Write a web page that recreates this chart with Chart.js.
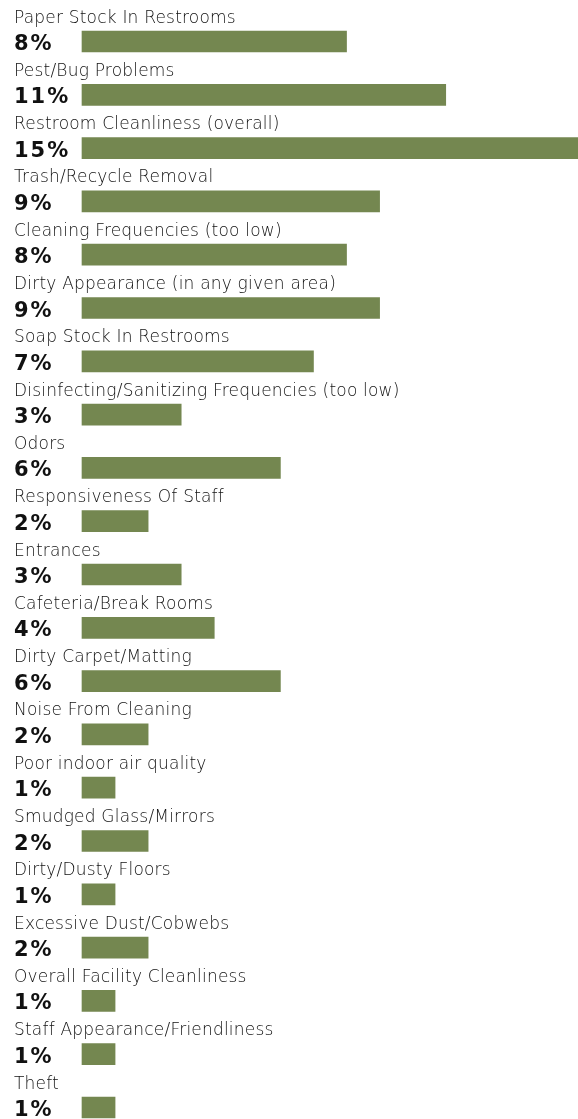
<!DOCTYPE html>
<html>
<head>
<meta charset="utf-8">
<script src="https://cdn.jsdelivr.net/npm/chart.js@4.4.0/dist/chart.umd.min.js"></script>
<style>
  html, body { margin: 0; padding: 0; background: #fff; }
  #wrap { width: 578px; height: 1119px; }
</style>
</head>
<body>
<div id="wrap"><canvas id="complaintsChart" width="578" height="1119"></canvas></div>
<script>
  // categories + percent values, top to bottom
  const categories = [
    'Paper Stock In Restrooms',
    'Pest/Bug Problems',
    'Restroom Cleanliness (overall)',
    'Trash/Recycle Removal',
    'Cleaning Frequencies (too low)',
    'Dirty Appearance (in any given area)',
    'Soap Stock In Restrooms',
    'Disinfecting/Sanitizing Frequencies (too low)',
    'Odors',
    'Responsiveness Of Staff',
    'Entrances',
    'Cafeteria/Break Rooms',
    'Dirty Carpet/Matting',
    'Noise From Cleaning',
    'Poor indoor air quality',
    'Smudged Glass/Mirrors',
    'Dirty/Dusty Floors',
    'Excessive Dust/Cobwebs',
    'Overall Facility Cleanliness',
    'Staff Appearance/Friendliness',
    'Theft'
  ];
  const percents = [8, 11, 15, 9, 8, 9, 7, 3, 6, 2, 3, 4, 6, 2, 1, 2, 1, 2, 1, 1, 1];
  const xMax = 15;

  // draws the category name above each bar and the bold percent on the left
  const rowLabels = {
    id: 'rowLabels',
    afterDatasetsDraw(chart) {
      const ctx = chart.ctx;
      const meta = chart.getDatasetMeta(0);
      ctx.save();
      ctx.textAlign = 'left';
      ctx.textBaseline = 'alphabetic';
      meta.data.forEach((bar, i) => {
        const y = bar.y;
        ctx.fillStyle = '#111';
        ctx.font = '200 17px "DejaVu Sans", sans-serif';
        ctx.letterSpacing = '0.2px';
        ctx.fillText(categories[i], 14, y - 19);
        ctx.fillStyle = '#111';
        ctx.font = 'bold 21px "DejaVu Sans", sans-serif';
        ctx.letterSpacing = '2px';
        ctx.fillText(percents[i] + '%', 14, y + 8.5);
      });
      ctx.restore();
    }
  };

  document.addEventListener('DOMContentLoaded', function() {
    const ctx = document.getElementById('complaintsChart').getContext('2d');
    new Chart(ctx, {
      type: 'bar',
      data: {
        labels: categories,
        datasets: [{
          data: percents,
          backgroundColor: '#748750',
          borderWidth: 0,
          barThickness: 21,
          clip: false
        }]
      },
      options: {
        indexAxis: 'y',
        responsive: false,
        animation: false,
        layout: { padding: { left: 82, right: 0, top: 41.5, bottom: 11.5 } },
        scales: {
          x: { display: false, min: 0, max: xMax, grid: { display: false } },
          y: { display: false, offset: false, grid: { display: false } }
        },
        plugins: {
          legend: { display: false },
          tooltip: { enabled: false }
        }
      },
      plugins: [rowLabels]
    });
  });
</script>
</body>
</html>
